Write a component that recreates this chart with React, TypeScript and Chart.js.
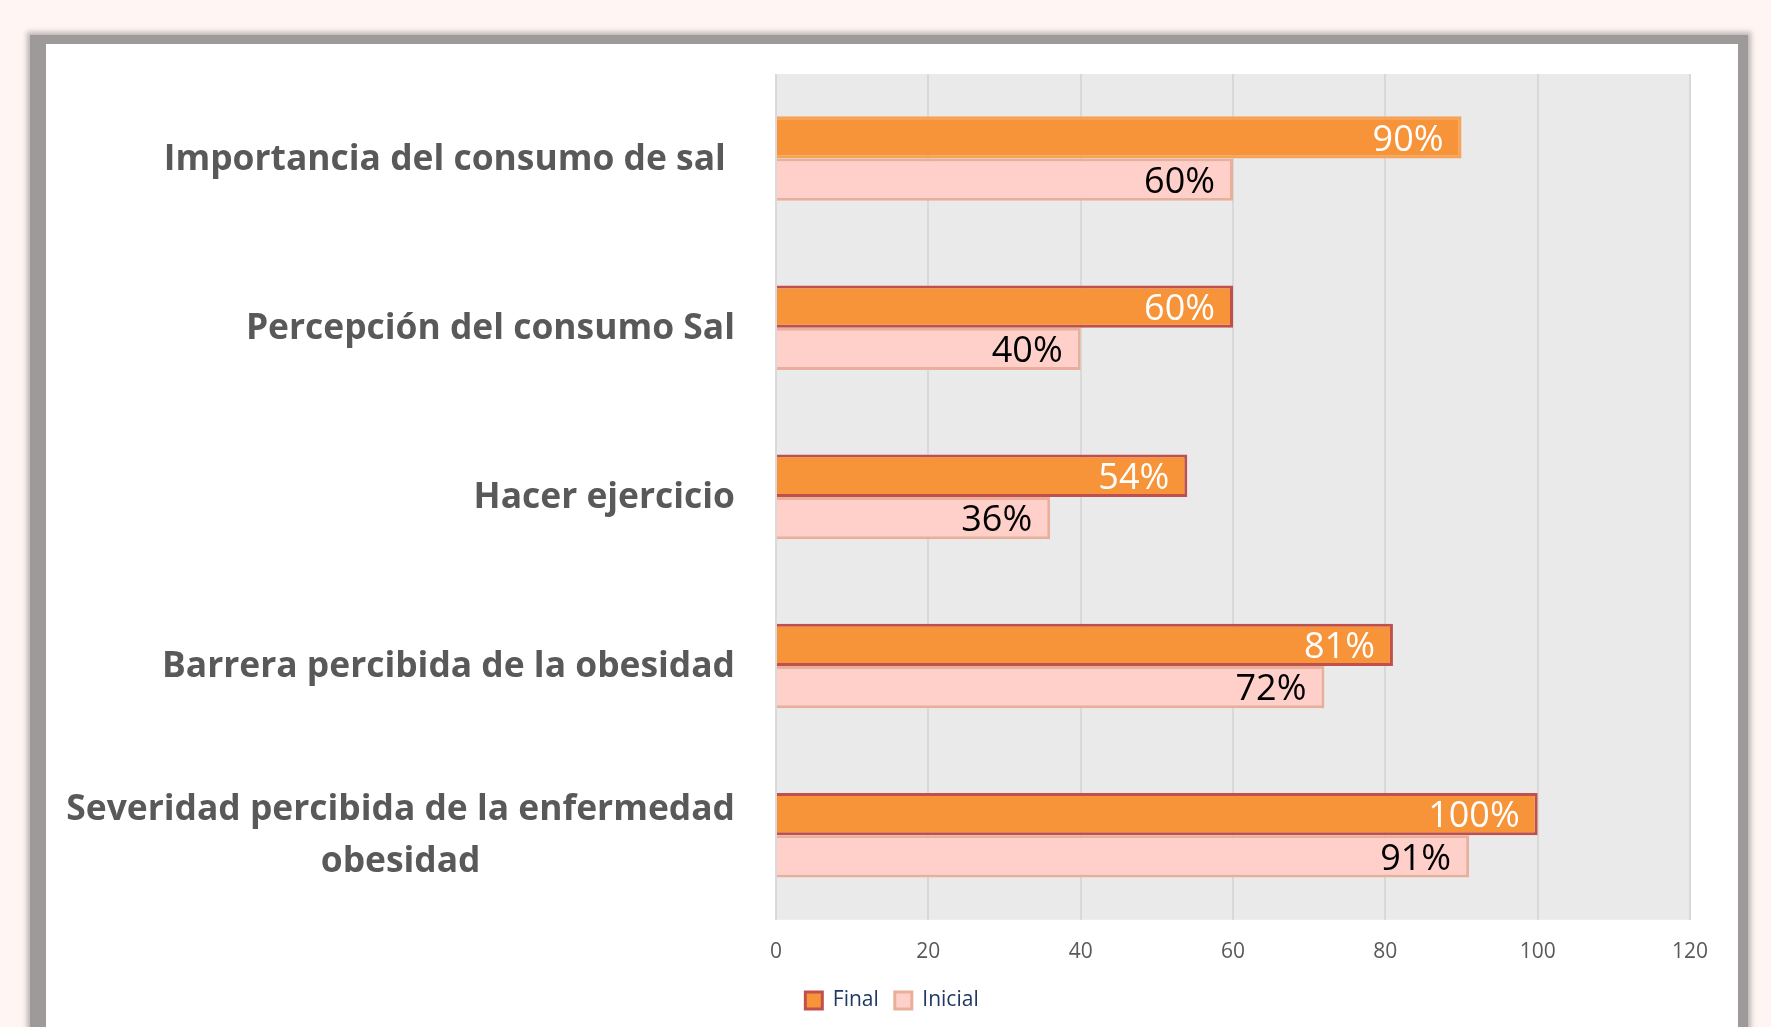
import React, { useEffect, useRef } from 'react';
import { Chart, registerables } from 'chart.js';

Chart.register(...registerables);

// ---- data ----
const categories: string[][] = [
  ['Importancia del consumo de sal '],
  ['Percepción del consumo Sal'],
  ['Hacer ejercicio'],
  ['Barrera percibida de la obesidad'],
  ['Severidad percibida de la enfermedad', 'obesidad'],
];
const seriesNames = ['Final', 'Inicial'];
const finalValues = [90, 60, 54, 81, 100];
const inicialValues = [60, 40, 36, 72, 91];
const xTickValues = [0, 20, 40, 60, 80, 100, 120];

// ---- styles ----
const FINAL_FILL = '#F79338';
const FINAL_BORDER = '#C0504D';
const FINAL_FIRST_BORDER = '#F8A257';
const INICIAL_FILL = '#FFD0CA';
const INICIAL_BORDER = '#E9AF9A';
const FONT = '"Open Sans", "Noto Sans", sans-serif';

const plotBg = {
  id: 'plotBg',
  beforeDraw(chart: any) {
    const { ctx, chartArea: a } = chart;
    ctx.save();
    ctx.fillStyle = '#EAEAEA';
    ctx.fillRect(a.left, a.top, a.right - a.left, a.bottom - a.top);
    ctx.restore();
  },
};

const catLabels = {
  id: 'catLabels',
  afterDraw(chart: any) {
    const yScale = chart.scales.y;
    const ctx = chart.ctx;
    ctx.save();
    ctx.font = `bold 35.4px ${FONT}`;
    ctx.fillStyle = '#595959';
    ctx.textBaseline = 'middle';
    const rightX = chart.chartArea.left - 41;
    const lh = 52;
    (chart.data.labels as string[][]).forEach((lines, i) => {
      const cy = yScale.getPixelForTick(i) + 1;
      const maxW = Math.max(...lines.map((l) => ctx.measureText(l).width));
      lines.forEach((l, j) => {
        const ly = cy + (j - (lines.length - 1) / 2) * lh;
        if (lines.length > 1) {
          ctx.textAlign = 'center';
          ctx.fillText(l, rightX - maxW / 2, ly);
        } else {
          ctx.textAlign = 'right';
          ctx.fillText(l, rightX, ly);
        }
      });
    });
    ctx.restore();
  },
};

const valueLabels = {
  id: 'valueLabels',
  afterDatasetsDraw(chart: any) {
    const ctx = chart.ctx;
    ctx.save();
    ctx.font = `36px ${FONT}`;
    ctx.textAlign = 'right';
    ctx.textBaseline = 'middle';
    chart.data.datasets.forEach((ds: any, di: number) => {
      const meta = chart.getDatasetMeta(di);
      ctx.fillStyle = di === 0 ? '#FFFFFF' : '#000000';
      meta.data.forEach((bar: any, i: number) => {
        ctx.fillText(`${ds.data[i]}%`, bar.x - 18, bar.y + 3);
      });
    });
    ctx.restore();
  },
};

export default function App() {
  const canvasRef = useRef<HTMLCanvasElement | null>(null);

  useEffect(() => {
    if (!canvasRef.current) return;
    const chart = new Chart(canvasRef.current, {
      type: 'bar',
      data: {
        labels: categories as any,
        datasets: [
          {
            label: seriesNames[0],
            data: finalValues,
            backgroundColor: FINAL_FILL,
            borderColor: finalValues.map((_, i) => (i === 0 ? FINAL_FIRST_BORDER : FINAL_BORDER)),
            borderWidth: 3,
            borderSkipped: 'start',
          },
          {
            label: seriesNames[1],
            data: inicialValues,
            backgroundColor: INICIAL_FILL,
            borderColor: INICIAL_BORDER,
            borderWidth: 3,
            borderSkipped: 'start',
          },
        ],
      },
      options: {
        indexAxis: 'y',
        responsive: false,
        animation: false,
        events: [],
        layout: { padding: { top: 30, right: 48, bottom: 6, left: 48 } },
        datasets: { bar: { categoryPercentage: 0.5, barPercentage: 1.0 } },
        scales: {
          x: {
            min: 0,
            max: 120,
            afterBuildTicks: (s: any) => {
              s.ticks = xTickValues.map((v) => ({ value: v }));
            },
            afterFit: (s: any) => {
              s.height -= 11;
            },
            ticks: {
              font: { family: FONT, size: 21 },
              color: '#595959',
              padding: 20,
            },
            grid: { color: '#D9D9D9', lineWidth: 2, drawTicks: false },
            border: { display: false },
          },
          y: {
            grid: { display: false },
            border: { display: false },
            ticks: { display: false },
            afterFit: (s: any) => {
              s.width = 682;
            },
          },
        },
        plugins: {
          tooltip: { enabled: false },
          legend: {
            position: 'bottom',
            labels: {
              boxWidth: 17,
              boxHeight: 17,
              padding: 16,
              color: '#1F3864',
              font: { family: FONT, size: 21 },
              generateLabels: () => [
                { text: seriesNames[0], fillStyle: FINAL_FILL, strokeStyle: FINAL_BORDER, lineWidth: 3, datasetIndex: 0, fontColor: '#1F3864' },
                { text: seriesNames[1], fillStyle: INICIAL_FILL, strokeStyle: INICIAL_BORDER, lineWidth: 3, datasetIndex: 1, fontColor: '#1F3864' },
              ] as any,
            },
          },
        },
      } as any,
      plugins: [plotBg, catLabels, valueLabels],
    });
    if ((document as any).fonts && (document as any).fonts.ready) {
      (document as any).fonts.ready.then(() => chart.update());
    }
    return () => chart.destroy();
  }, []);

  return (
    <div
      style={{
        position: 'fixed',
        left: 0,
        top: 0,
        width: 1771,
        height: 1027,
        overflow: 'hidden',
        background: '#FFF5F2',
      }}
    >
      <div
        style={{
          position: 'absolute',
          left: 30,
          top: 35,
          width: 1718,
          height: 1100,
          background: '#9E9A9A',
          boxShadow: '0 0 5px 3px rgba(158,154,154,0.7)',
        }}
      />
      <div
        style={{
          position: 'absolute',
          left: 46,
          top: 44,
          width: 1692,
          height: 1100,
          background: '#FFFFFF',
        }}
      />
      <canvas
        ref={canvasRef}
        width={1692}
        height={983}
        style={{ position: 'absolute', left: 46, top: 44, display: 'block' }}
      />
    </div>
  );
}
